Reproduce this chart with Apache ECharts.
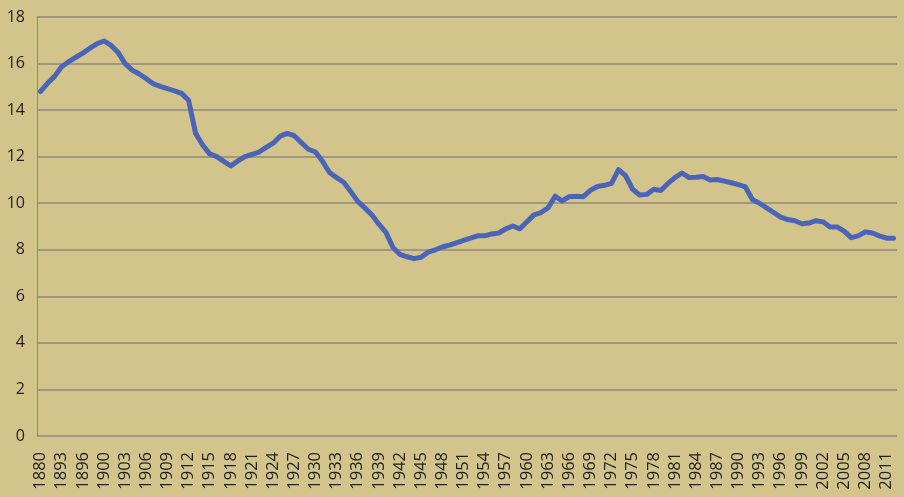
<!DOCTYPE html>
<html>
<head>
<meta charset="utf-8">
<script src="https://cdn.jsdelivr.net/npm/echarts@6/dist/echarts.min.js"></script>
<style>
  html, body { margin: 0; padding: 0; background: #d3c48c; }
  #chart { width: 904px; height: 497px; }
</style>
</head>
<body>
<div id="chart"></div>
<script>
// years on the category axis (only every third one is labelled)
var years = [
  '1880','1885','1890','1893','1894','1895','1896','1897','1898','1900',
  '1901','1902','1903','1904','1905','1906','1907','1908','1909','1910',
  '1911','1912','1913','1914','1915','1916','1917','1918','1919','1920',
  '1921','1922','1923','1924','1925','1926','1927','1928','1929','1930',
  '1931','1932','1933','1934','1935','1936','1937','1938','1939','1940',
  '1941','1942','1943','1944','1945','1946','1947','1948','1949','1950',
  '1951','1952','1953','1954','1955','1956','1957','1958','1959','1960',
  '1961','1962','1963','1964','1965','1966','1967','1968','1969','1970',
  '1971','1972','1973','1974','1975','1976','1977','1978','1979','1980',
  '1981','1982','1983','1984','1985','1986','1987','1988','1989','1990',
  '1991','1992','1993','1994','1995','1996','1997','1998','1999','2000',
  '2001','2002','2003','2004','2005','2006','2007','2008','2009','2010',
  '2011','2012'
];

// values
var values = [
  14.8, 15.15, 15.45, 15.87, 16.08, 16.27, 16.45, 16.66, 16.85, 16.97,
  16.78, 16.48, 16.0, 15.72, 15.55, 15.35, 15.13, 15.02, 14.92, 14.83,
  14.72, 14.42, 13.0, 12.5, 12.12, 12.0, 11.8, 11.6, 11.82, 12.0,
  12.1, 12.2, 12.4, 12.58, 12.88, 13.0, 12.9, 12.6, 12.32, 12.2,
  11.8, 11.32, 11.1, 10.9, 10.5, 10.08, 9.8, 9.5, 9.1, 8.75,
  8.1, 7.8, 7.7, 7.62, 7.68, 7.9, 8.0, 8.12, 8.2, 8.3,
  8.4, 8.5, 8.6, 8.6, 8.68, 8.72, 8.9, 9.02, 8.9, 9.2,
  9.5, 9.6, 9.8, 10.3, 10.1, 10.28, 10.3, 10.28, 10.55, 10.72,
  10.77, 10.85, 11.44, 11.18, 10.6, 10.35, 10.38, 10.6, 10.55, 10.85,
  11.1, 11.3, 11.1, 11.12, 11.15, 11.0, 11.02, 10.95, 10.88, 10.8,
  10.7, 10.15, 10.0, 9.8, 9.6, 9.4, 9.3, 9.25, 9.12, 9.15,
  9.25, 9.2, 8.98, 8.98, 8.8, 8.52, 8.6, 8.77, 8.72, 8.6,
  8.5, 8.5
];

var yMin = 0, yMax = 18, yStep = 2;

var chart = echarts.init(document.getElementById('chart'));
chart.setOption({
  backgroundColor: '#d3c48c',
  animation: false,
  grid: { left: 37, right: 7, top: 17, bottom: 61 },
  xAxis: {
    type: 'category',
    data: years,
    boundaryGap: true,
    axisLine: { show: false },
    axisTick: { show: false },
    axisLabel: {
      interval: 2,
      rotate: 90,
      margin: 16,
      color: '#222',
      fontFamily: 'Open Sans',
      fontSize: 16.5
    }
  },
  yAxis: {
    type: 'value',
    min: yMin,
    max: yMax,
    interval: yStep,
    axisLine: { show: true, lineStyle: { color: '#8c8a80', width: 1 } },
    axisTick: { show: false },
    axisLabel: {
      margin: 12,
      color: '#222',
      fontFamily: 'Open Sans',
      fontSize: 16
    },
    splitLine: { lineStyle: { color: '#8c8a80', width: 1.5 } }
  },
  series: [{
    type: 'line',
    data: values,
    symbol: 'none',
    lineStyle: { color: '#4a64b8', width: 5, join: 'round', cap: 'round' }
  }]
});
</script>
</body>
</html>
